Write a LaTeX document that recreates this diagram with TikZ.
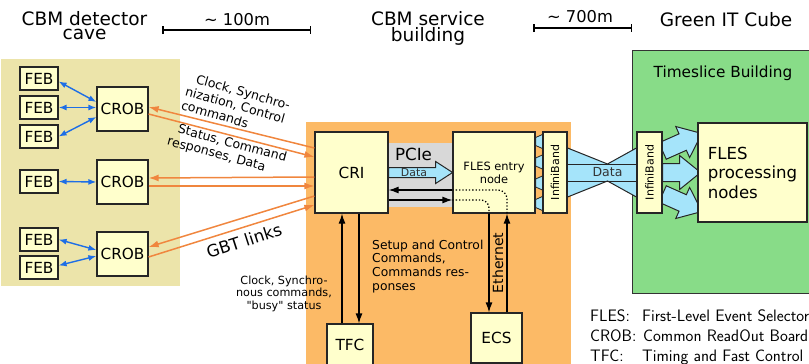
\documentclass[tikz,border=0pt]{standalone}
\usepackage{fontspec}
\setmainfont{DejaVu Sans}
\usetikzlibrary{arrows.meta,calc}
\pgfdeclarelayer{bg}\pgfdeclarelayer{mid}
\pgfsetlayers{bg,mid,main}
\definecolor{khaki}{RGB}{236,228,170}
\definecolor{orng}{RGB}{252,186,102}
\definecolor{grn}{RGB}{136,220,136}
\definecolor{boxy}{RGB}{255,255,204}
\definecolor{lblue}{RGB}{165,228,250}
\definecolor{arrblue}{RGB}{30,110,230}
\definecolor{arrorng}{RGB}{240,134,62}
\definecolor{pcig}{RGB}{216,216,216}
\newcommand\bigarr[6]{\begin{scope}[shift={#1},rotate=#2]
\filldraw[fill=lblue,draw=black!85,line width=1pt,line join=miter] (0,-#4) -- ({#3-#6},-#4) -- ({#3-#6},-#5) -- (#3,0) -- ({#3-#6},#5) -- ({#3-#6},#4) -- (0,#4) -- cycle;
\end{scope}}
\begin{document}
\begin{tikzpicture}[x=1pt,y=-1pt,
 box/.style={draw=black!85, line width=1.2pt, fill=boxy, inner sep=0pt, font=\fontsize{15.3}{18}\selectfont},
 blu/.style={draw=arrblue, line width=1.4pt, {Latex[length=8pt,width=6pt]}-{Latex[length=8pt,width=6pt]}},
 org/.style={draw=arrorng, line width=1.5pt, -{Latex[length=10pt,width=7pt]}},
 blk/.style={draw=black, line width=1.2pt, -{Latex[length=10pt,width=7pt]}},
 ttl/.style={inner sep=0pt, font=\fontsize{18.5}{18}\selectfont},
 scl/.style={inner sep=0pt, font=\fontsize{16.3}{16}\selectfont},
 rotl/.style={inner sep=0pt, font=\fontsize{12.5}{14.5}\selectfont},
 leg/.style={inner sep=0pt, font=\sffamily\fontsize{16.6}{17}\selectfont},
 ibt/.style={inner sep=0pt, rotate=90, font=\fontsize{11}{11}\selectfont},
 sbar/.style={line width=1.5pt, {Bar[width=8pt]}-{Bar[width=8pt]}}]
\useasboundingbox (0,0) rectangle (809,364);
\clip (0,0) rectangle (809,364);

% titles and scale bars
\node[ttl, anchor=base] (t1a) at (84.5,25) {CBM detector};
\node[ttl, anchor=base] (t1b) at (84.5,39) {cave};
\node[ttl, anchor=base] (t2a) at (428,25) {CBM service};
\node[ttl, anchor=base] (t2b) at (428,41) {building};
\node[ttl, anchor=base] (t3) at (726,27) {Green IT Cube};
\node[scl, anchor=base] (s1t) at (237,25) {\textasciitilde{} 100m};
\node[scl, anchor=base] (s2t) at (580,22) {\textasciitilde{} 700m};
\coordinate (s1a) at (162,30); \coordinate (s1b) at (311,30);
\coordinate (s2a) at (533,28); \coordinate (s2b) at (632,28);
\draw[sbar] (s1a) -- (s1b);
\draw[sbar] (s2a) -- (s2b);

% boxes
\node[box, minimum width=38, minimum height=23] (feb1) at (39,78.5) {FEB};
\node[box, minimum width=38, minimum height=23] (feb2) at (39,107.5) {FEB};
\node[box, minimum width=38, minimum height=23] (feb3) at (39,136.5) {FEB};
\node[box, minimum width=38, minimum height=23] (feb4) at (39,181.5) {FEB};
\node[box, minimum width=38, minimum height=23] (feb5) at (39,239.5) {FEB};
\node[box, minimum width=38, minimum height=23] (feb6) at (39,267.5) {FEB};
\node[box, minimum width=51, minimum height=44] (crob1) at (122.5,109) {CROB};
\node[box, minimum width=51, minimum height=44] (crob2) at (122.5,182) {CROB};
\node[box, minimum width=51, minimum height=44] (crob3) at (122.5,254) {CROB};
\node[box, minimum width=73, minimum height=81] (cri) at (351.5,172.5) {CRI};
\node[box, minimum width=82, minimum height=81, align=center, font=\fontsize{11.4}{12.8}\selectfont] (fen) at (494,172.5) {FLES entry\\node};
\node[box, minimum width=24, minimum height=81] (ib1) at (555,172.5) {};
\node[ibt] (ib1t) at (ib1.center) {InfiniBand};
\node[box, minimum width=25, minimum height=81] (ib2) at (649.5,172.5) {};
\node[ibt] (ib2t) at (ib2.center) {InfiniBand};
\node[box, minimum width=109, minimum height=99, align=left, font=\fontsize{16.6}{19.5}\selectfont] (fpn) at (752.5,172.5) {FLES\\processing\\nodes};
\node[box, minimum width=46, minimum height=42] (tfc) at (350,345) {TFC};
\node[box, minimum width=51, minimum height=50] (ecs) at (496.5,338) {ECS};

% background regions
\begin{pgfonlayer}{bg}
\fill[khaki] (1,59) rectangle (180,286);
\fill[orng] (306,122) rectangle (571,366);
\filldraw[fill=grn, draw=black!80, line width=1pt] (632,50) rectangle (812,293);
\fill[pcig] ($(cri.east)+(0,-29.5)$) rectangle ($(fen.west)+(0,34.5)$);
\end{pgfonlayer}

% data shapes
\begin{pgfonlayer}{mid}
\filldraw[fill=lblue, draw=black!85, line width=1pt, line join=miter]
  ($(cri.east)+(0,-5)$) -- ++(47,0) -- ++(0,-6) -- ++(17,11) -- ++(-17,11) -- ++(0,-6) -- ++(-47,0) -- cycle;
\foreach \c in {-31,-10.5,10.5,31}{
  \filldraw[fill=lblue, draw=black!85, line width=0.8pt]
    ($(fen.east)+(0,\c-4)$) -- ($(ib1.west)+(0,\c-7)$) -- ($(ib1.west)+(0,\c+7)$) -- ($(fen.east)+(0,\c+4)$) -- cycle;}
\coordinate (dm) at ($(ib1.east)!0.58!(ib2.west)$);
\fill[lblue] ($(ib1.east)+(0,-24.5)$) -- ($(dm)+(0,-8.5)$) -- ($(ib2.west)+(0,-24.5)$) -- ($(ib2.west)+(0,24.5)$) -- ($(dm)+(0,8.5)$) -- ($(ib1.east)+(0,24.5)$) -- cycle;
\draw[black!85, line width=1pt] ($(ib1.east)+(0,-24.5)$) -- ($(dm)+(0,-8.5)$) -- ($(ib2.west)+(0,-24.5)$);
\draw[black!85, line width=1pt] ($(ib1.east)+(0,24.5)$) -- ($(dm)+(0,8.5)$) -- ($(ib2.west)+(0,24.5)$);
\draw[black!85, line width=1pt] ($(ib1.east)+(0,-8.5)$) -- ($(ib2.west)+(0,-8.5)$);
\draw[black!85, line width=1pt] ($(ib1.east)+(0,8.5)$) -- ($(ib2.west)+(0,8.5)$);
\bigarr{($(ib2.east)+(0,-21.5)$)}{24}{43}{9}{17}{21}
\bigarr{(ib2.east)}{0}{38}{9}{17}{21}
\bigarr{($(ib2.east)+(0,21.5)$)}{-24}{43}{9}{17}{21}
\end{pgfonlayer}

\node[inner sep=0pt, font=\fontsize{16.7}{17}\selectfont] (pcie) at (413.5,154) {PCIe};
\node[inner sep=0pt, font=\fontsize{10.9}{11}\selectfont, text=black!80] (pdata) at (414,172.5) {Data};
\node[inner sep=0pt, font=\fontsize{12.5}{13}\selectfont, text=black!80] (idata) at (dm) {Data};
\node[inner sep=0pt, anchor=base, font=\fontsize{15.3}{16}\selectfont] (tsb) at (723,77) {Timeslice Building};

% blue links
\draw[blu] ($(feb1.east)+(0,3)$) -- ($(crob1.west)+(0,-7)$);
\draw[blu] (feb2.east) -- (crob1.west |- feb2.east);
\draw[blu] (feb3.east) -- ($(crob1.west)+(0,8)$);
\draw[blu] (feb4.east) -- (crob2.west);
\draw[blu] (feb5.east) -- ($(crob3.west)+(0,-4)$);
\draw[blu] ($(feb6.east)+(0,-2)$) -- ($(crob3.west)+(0,2)$);

% orange GBT links
\draw[org] ($(cri.west)+(0,-24.5)$) -- ($(crob1.east)+(0,-2)$);
\draw[org] ($(crob1.east)+(0,5)$) -- ($(cri.west)+(0,-15.5)$);
\draw[org] ($(cri.west)+(0,4.5)$) -- ($(crob2.east)+(0,-4)$);
\draw[org] ($(crob2.east)+(0,4)$) -- ($(cri.west)+(0,13.5)$);
\draw[org] ($(cri.west)+(0,23.5)$) -- ($(crob3.east)+(0,-7)$);
\draw[org] ($(crob3.east)+(0,3)$) -- ($(cri.west)+(0,32.5)$);
\node[rotl, rotate=-16, align=left] (lab1) at (236,105) {\hspace*{7pt}Clock, Synchro-\\nization, Control\\commands};
\node[rotl, rotate=-15, align=left] (lab2) at (227,150) {\hspace*{7pt}Status, Command\\responses, Data};
\node[inner sep=0pt, rotate=18, font=\fontsize{16.7}{17}\selectfont] (lab3) at (244,241) {GBT links};

% CRI <-> FLES entry node, Ethernet
\draw[blk] ($(fen.west)+(0,17.5)$) -- ($(cri.east)+(0,17.5)$);
\draw[blk] ($(cri.east)+(0,27.5)$) -- ($(fen.west)+(0,27.5)$);
\draw[dotted, line width=1.3pt, rounded corners=9pt] ($(fen.west)+(0,17.5)$) -| ($(fen.south)+(13,0)$);
\draw[dotted, line width=1.3pt, rounded corners=8pt] ($(fen.west)+(0,27.5)$) -| ($(fen.south)+(-5,0)$);
\draw[blk] ($(fen.south)+(-5,0)$) -- ($(ecs.north)+(-7.5,0)$);
\draw[blk] ($(ecs.north)+(10.5,0)$) -- ($(fen.south)+(13,0)$);
\node[inner sep=0pt, rotate=90, font=\fontsize{14}{14}\selectfont] (eth) at (498,263) {Ethernet};

% CRI <-> TFC
\draw[blk] ($(tfc.north)+(-8,0)$) -- ($(cri.south)+(-9.5,0)$);
\draw[blk] ($(cri.south)+(7.5,0)$) -- ($(tfc.north)+(9,0)$);
\node[inner sep=0pt, anchor=north west, align=left, font=\fontsize{12.3}{13.8}\selectfont] (setup) at (372,239.5) {Setup and Control\\Commands,\\Commands res-\\ponses};
\node[inner sep=0pt, anchor=north, align=center, font=\fontsize{11.2}{12.7}\selectfont] (clk) at (284,275.5) {Clock, Synchro-\\nous commands,\\\textquotedbl busy\textquotedbl{} status};

% legend
\node[leg, anchor=base west] (l1a) at (590,321) {FLES:};
\node[leg, anchor=base west] (l1b) at (642,321) {First-Level Event Selector};
\node[leg, anchor=base west] (l2a) at (590,341) {CROB:};
\node[leg, anchor=base west] (l2b) at (643,341) {Common ReadOut Board};
\node[leg, anchor=base west] (l3a) at (590,361) {TFC:};
\node[leg, anchor=base west] (l3b) at (642,361) {Timing and Fast Control};
\end{tikzpicture}
\end{document}
